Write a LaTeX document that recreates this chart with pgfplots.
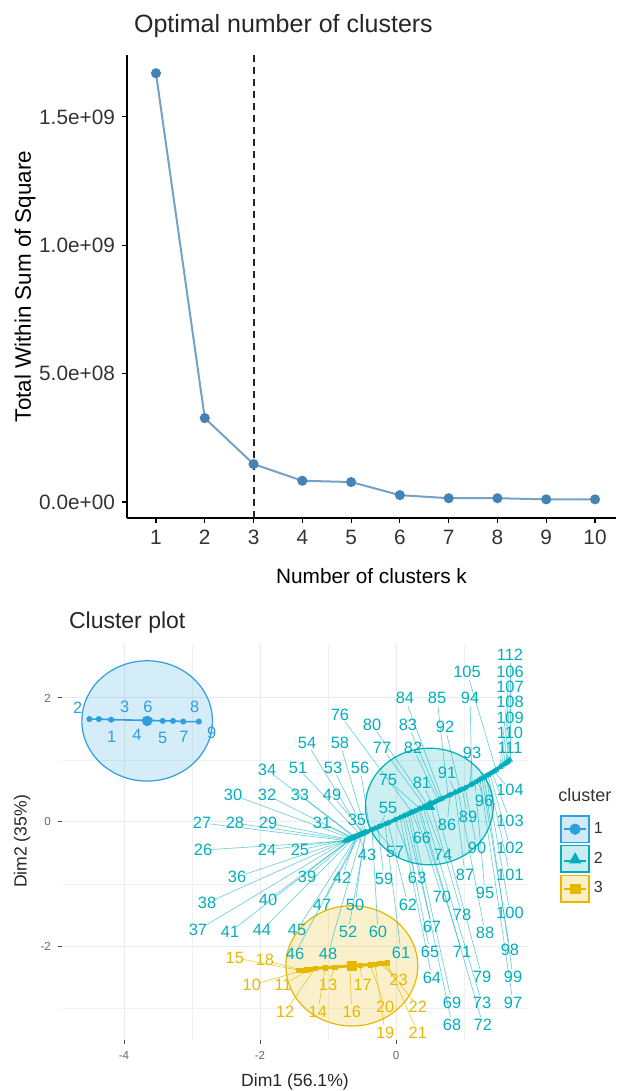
\documentclass[border=0pt]{standalone}
\usepackage{fontspec}
\setmainfont{Liberation Sans}
\usepackage{pgfplots}
\pgfplotsset{compat=1.18}
\usepackage{pgfplotstable}
\definecolor{c1}{HTML}{2E9FDF}
\definecolor{c2}{HTML}{00AFBB}
\definecolor{c3}{HTML}{E7B800}
\definecolor{sb}{HTML}{4682B4}

\pgfplotstableread{
lab px py lx ly
2 -4.51 1.66 -4.68 1.85
3 -4.37 1.66 -3.99 1.85
1 -4.19 1.65 -4.18 1.37
4 -3.69 1.64 -3.81 1.40
6 -3.62 1.64 -3.65 1.85
5 -3.43 1.63 -3.43 1.35
7 -3.28 1.63 -3.12 1.37
8 -3.13 1.62 -2.96 1.85
9 -2.90 1.62 -2.71 1.44
}\clA

\pgfplotstableread{
lab px py lx ly
26 -0.750 -0.306 -2.838 -0.452
27 -0.735 -0.300 -2.853 -0.016
24 -0.721 -0.293 -1.897 -0.452
28 -0.706 -0.286 -2.368 -0.016
37 -0.706 -0.286 -2.912 -1.742
29 -0.691 -0.279 -1.882 -0.016
38 -0.691 -0.279 -2.779 -1.306
25 -0.676 -0.272 -1.412 -0.452
36 -0.676 -0.272 -2.338 -0.887
30 -0.662 -0.266 -2.397 0.435
41 -0.662 -0.266 -2.441 -1.774
32 -0.647 -0.259 -1.897 0.435
39 -0.647 -0.259 -1.309 -0.887
31 -0.632 -0.252 -1.088 -0.016
40 -0.632 -0.252 -1.882 -1.258
33 -0.618 -0.245 -1.412 0.435
34 -0.603 -0.238 -1.897 0.839
44 -0.603 -0.238 -1.971 -1.742
42 -0.588 -0.232 -0.794 -0.903
45 -0.574 -0.225 -1.456 -1.742
43 -0.559 -0.218 -0.426 -0.532
46 -0.559 -0.218 -1.485 -2.129
47 -0.529 -0.204 -1.088 -1.339
51 -0.529 -0.204 -1.441 0.871
35 -0.500 -0.191 -0.574 0.032
48 -0.500 -0.191 -1.000 -2.129
54 -0.500 -0.191 -1.309 1.274
49 -0.471 -0.177 -0.941 0.435
50 -0.456 -0.170 -0.603 -1.339
53 -0.456 -0.170 -0.926 0.871
52 -0.441 -0.164 -0.706 -1.774
58 -0.441 -0.164 -0.824 1.274
56 -0.382 -0.136 -0.529 0.871
60 -0.353 -0.123 -0.265 -1.774
57 -0.309 -0.102 -0.015 -0.484
59 -0.265 -0.082 -0.176 -0.919
55 -0.235 -0.068 -0.118 0.226
61 -0.162 -0.034 0.074 -2.113
62 -0.118 -0.014 0.176 -1.339
63 -0.015 0.036 0.309 -0.903
64 0.059 0.072 0.529 -2.516
65 0.103 0.094 0.500 -2.097
67 0.132 0.108 0.529 -1.694
68 0.176 0.130 0.824 -3.274
69 0.206 0.144 0.824 -2.919
66 0.235 0.159 0.382 -0.258
76 0.235 0.159 -0.824 1.726
70 0.279 0.180 0.676 -1.210
71 0.324 0.202 0.971 -2.097
72 0.353 0.216 1.279 -3.274
75 0.353 0.216 -0.118 0.677
73 0.397 0.238 1.265 -2.919
74 0.426 0.252 0.691 -0.532
77 0.426 0.252 -0.206 1.194
80 0.471 0.274 -0.353 1.565
78 0.500 0.289 0.971 -1.500
81 0.529 0.304 0.382 0.629
79 0.574 0.326 1.265 -2.500
82 0.618 0.348 0.250 1.194
83 0.647 0.363 0.176 1.565
84 0.676 0.378 0.132 2.000
85 0.765 0.423 0.603 2.000
86 0.794 0.438 0.750 -0.048
87 0.868 0.475 1.015 -0.855
91 0.868 0.475 0.750 0.790
88 0.912 0.497 1.309 -1.790
92 0.941 0.512 0.721 1.532
89 0.971 0.527 1.059 0.081
90 1.015 0.549 1.191 -0.419
93 1.088 0.593 1.118 1.113
94 1.118 0.611 1.088 2.000
95 1.162 0.639 1.309 -1.145
96 1.206 0.667 1.294 0.339
97 1.235 0.686 1.721 -2.919
98 1.265 0.704 1.676 -2.065
99 1.294 0.723 1.721 -2.500
100 1.324 0.742 1.676 -1.468
101 1.353 0.760 1.676 -0.855
102 1.382 0.779 1.676 -0.419
103 1.412 0.798 1.676 0.016
104 1.441 0.818 1.676 0.516
105 1.471 0.840 1.044 2.419
106 1.529 0.886 1.676 2.419
107 1.559 0.909 1.676 2.177
108 1.588 0.931 1.676 1.935
109 1.618 0.954 1.676 1.677
110 1.632 0.965 1.676 1.435
111 1.647 0.977 1.676 1.194
112 1.676 1.000 1.676 2.694
}\clB

\pgfplotstableread{
lab px py lx ly
15 -1.44 -2.39 -2.37 -2.19
18 -1.38 -2.39 -1.93 -2.23
10 -1.32 -2.38 -2.12 -2.63
11 -1.26 -2.37 -1.66 -2.63
12 -1.19 -2.36 -1.63 -3.06
14 -1.04 -2.35 -1.15 -3.06
13 -0.90 -2.34 -1.00 -2.63
16 -0.68 -2.32 -0.65 -3.06
17 -0.53 -2.31 -0.49 -2.63
20 -0.38 -2.30 -0.16 -2.98
19 -0.31 -2.29 -0.16 -3.40
23 -0.24 -2.28 0.04 -2.55
22 -0.18 -2.28 0.32 -2.98
21 -0.13 -2.27 0.32 -3.40
}\clC

\begin{document}
\begin{tikzpicture}
\useasboundingbox (0,0) rectangle (308pt,545.5pt);

% ---------- top panel: elbow ----------
\begin{axis}[
  at={(63.5pt,286.5pt)}, anchor=south west, scale only axis,
  width=244.5pt, height=231.5pt,
  xmin=0.406, xmax=10.43, ymin=-6.2e7, ymax=1.741e9,
  scaled y ticks=false, scaled x ticks=false,
  axis x line*=bottom, axis y line*=left,
  axis line style={-, black, line width=0.8pt},
  xtick={1,2,3,4,5,6,7,8,9,10},
  xticklabels={1,2,3,4,5,6,7,8,9,10},
  ytick={0,5e8,1e9,1.5e9},
  yticklabels={0.0e+00,5.0e+08,1.0e+09,1.5e+09},
  tick align=outside, major tick length=2.5pt,
  tick style={black, line width=0.6pt},
  ticklabel style={font=\fontsize{10.4}{12}\selectfont, text=black!80},
  /pgf/number format/assume math mode=true,
  xlabel={Number of clusters k},
  ylabel={Total Within Sum of Square},
  xlabel style={at={(axis description cs:0.5,-0.125)}, anchor=center, font=\fontsize{10.4}{12}\selectfont},
  ylabel style={at={(axis description cs:-0.2086,0.5)}, anchor=center, font=\fontsize{11.2}{13}\selectfont},
  title={Optimal number of clusters},
  title style={at={(axis description cs:0,1.0367)}, anchor=west, yshift=0pt, font=\fontsize{12.5}{14}\selectfont, text=black!85},
]
\addplot[sb!75, line width=1pt, mark=*, mark size=2pt, mark options={fill=sb, draw=sb}]
  coordinates {(1,1.670e9) (2,3.27e8) (3,1.48e8) (4,8.3e7) (5,7.8e7) (6,2.7e7) (7,1.5e7) (8,1.5e7) (9,1.05e7) (10,1.05e7)};
\addplot[black!85, line width=1pt, dash pattern=on 3.5pt off 2.5pt] coordinates {(3,-6.2e7) (3,1.741e9)};
\end{axis}

% ---------- bottom panel: cluster plot ----------
\begin{axis}[
  at={(31pt,25.5pt)}, anchor=south west, scale only axis,
  width=233pt, height=198.5pt,
  xmin=-4.912, xmax=1.941, ymin=-3.516, ymax=2.887,
  axis line style={draw=none},
  xtick={-4,-2,0}, xticklabels={-4,-2,0},
  ytick={-2,0,2}, yticklabels={-2,0,2},
  minor xtick={-3,-1,1}, minor ytick={-3,-1,1},
  grid=both,
  major grid style={gray!16, line width=0.5pt},
  minor grid style={gray!11, line width=0.35pt},
  tick pos=left, tick align=outside,
  major tick length=2pt, minor tick length=0pt,
  tick style={black!70, line width=0.5pt},
  ticklabel style={font=\fontsize{5.8}{7}\selectfont, text=black!60},
  /pgf/number format/assume math mode=true,
  xlabel={Dim1 (56.1\%)}, ylabel={Dim2 (35\%)},
  xlabel style={at={(axis description cs:0.5,-0.106)}, anchor=center, font=\fontsize{8.8}{10}\selectfont, text=black!85},
  ylabel style={at={(axis description cs:-0.0858,0.5)}, anchor=center, font=\fontsize{8.8}{10}\selectfont, text=black!85},
  title={Cluster plot},
  title style={at={(axis description cs:0,1.0202)}, anchor=west, yshift=0pt, font=\fontsize{11.5}{13}\selectfont, text=black!85},
  legend style={at={(axis description cs:1.0687,0.567)}, anchor=north west, draw=none, fill=none,
    font=\fontsize{8}{9}\selectfont, text=black!80, row sep=1pt, inner sep=0pt},
  legend cell align=left,
]
% ellipses
\draw[c1, line width=0.6pt, fill=c1, fill opacity=0.2] (axis cs:-3.66,1.63) ellipse [x radius=0.96, y radius=0.97];
\draw[c2, line width=0.6pt, fill=c2, fill opacity=0.2] (axis cs:0.49,0.25) ellipse [x radius=0.94, y radius=0.94];
\draw[c3, line width=0.6pt, fill=c3, fill opacity=0.2] (axis cs:-0.65,-2.32) ellipse [x radius=0.97, y radius=0.97];

% repel segments
\addplot[forget plot, c2, draw opacity=0.55, line width=0.35pt, mark=none, arrows=-,
  quiver={u=\thisrow{px}-\thisrow{lx}, v=\thisrow{py}-\thisrow{ly},
  every arrow/.append style={shorten <=4pt}}] table[x=lx, y=ly] {\clB};
\addplot[forget plot, c3, draw opacity=0.7, line width=0.35pt, mark=none, arrows=-,
  quiver={u=\thisrow{px}-\thisrow{lx}, v=\thisrow{py}-\thisrow{ly},
  every arrow/.append style={shorten <=4pt}}] table[x=lx, y=ly] {\clC};

% points
\addplot[forget plot, c1, line width=0.8pt, mark=*, mark size=1.1pt] table[x=px, y=py] {\clA};
\addplot[forget plot, c2, line width=1.8pt, mark=triangle*, mark size=1.5pt, mark options={solid, line width=0.2pt}] table[x=px, y=py] {\clB};
\addplot[forget plot, c3, line width=1.5pt, mark=square*, mark size=1.1pt, mark options={solid, line width=0.2pt}] table[x=px, y=py] {\clC};
% cluster centres
\addplot[forget plot, c1, only marks, mark=*, mark size=2.4pt] coordinates {(-3.66,1.63)};
\addplot[forget plot, c2, only marks, mark=triangle*, mark size=3pt] coordinates {(0.49,0.25)};
\addplot[forget plot, c3, only marks, mark=square*, mark size=2.2pt] coordinates {(-0.65,-2.32)};

% labels
\addplot[forget plot, draw=none, mark=none, nodes near coords, point meta=explicit symbolic,
  nodes near coords style={anchor=center, text=c1, font=\fontsize{8.2}{9}\selectfont, inner sep=0pt}]
  table[x=lx, y=ly, meta=lab] {\clA};
\addplot[forget plot, draw=none, mark=none, nodes near coords, point meta=explicit symbolic,
  nodes near coords style={anchor=center, text=c2, font=\fontsize{8.2}{9}\selectfont, inner sep=0pt}]
  table[x=lx, y=ly, meta=lab] {\clB};
\addplot[forget plot, draw=none, mark=none, nodes near coords, point meta=explicit symbolic,
  nodes near coords style={anchor=center, text=c3, font=\fontsize{8.2}{9}\selectfont, inner sep=0pt}]
  table[x=lx, y=ly, meta=lab] {\clC};

\coordinate (ct) at (axis description cs:1.0644,0.617);

% legend
\addlegendimage{legend image code/.code={
  \draw[c1, line width=0.7pt, fill=c1!22] (0pt,-6.6pt) rectangle (14pt,6.6pt);
  \draw[c1, line width=0.8pt] (1.5pt,0pt) -- (12.5pt,0pt);
  \fill[c1] (7pt,0pt) circle (2.6pt);}}
\addlegendentry{1}
\addlegendimage{legend image code/.code={
  \draw[c2, line width=0.7pt, fill=c2!22] (0pt,-6.6pt) rectangle (14pt,6.6pt);
  \draw[c2, line width=0.8pt] (1.5pt,-1pt) -- (12.5pt,-1pt);
  \fill[c2] (7pt,3pt) -- (4.2pt,-2pt) -- (9.8pt,-2pt) -- cycle;}}
\addlegendentry{2}
\addlegendimage{legend image code/.code={
  \draw[c3, line width=0.7pt, fill=c3!22] (0pt,-6.6pt) rectangle (14pt,6.6pt);
  \draw[c3, line width=0.8pt] (1.5pt,0pt) -- (12.5pt,0pt);
  \fill[c3] (4.6pt,-2.4pt) rectangle (9.4pt,2.4pt);}}
\addlegendentry{3}
\end{axis}
\node[anchor=west, font=\fontsize{9}{10}\selectfont, text=black!80, inner sep=0pt] at (ct) {cluster};
\end{tikzpicture}
\end{document}
